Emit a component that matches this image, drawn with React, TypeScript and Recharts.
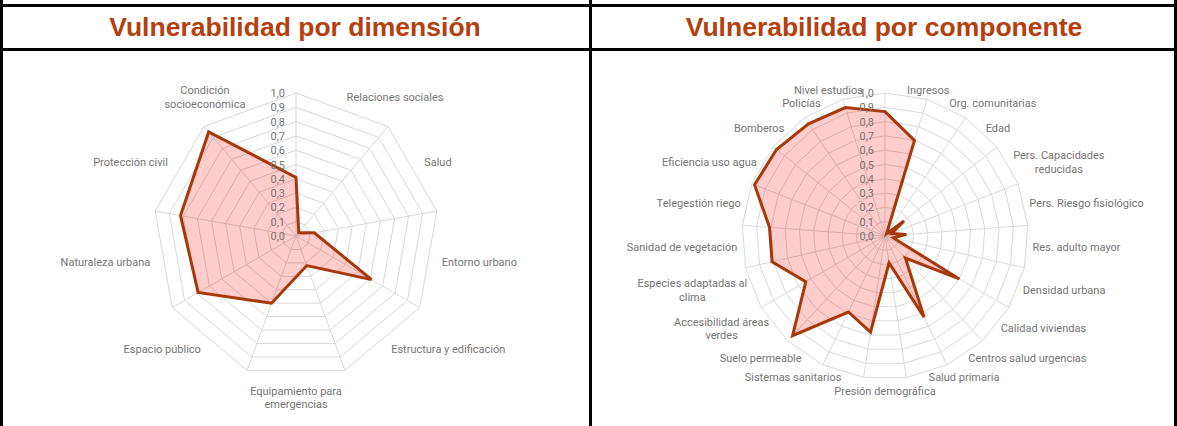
import React from 'react'
import { RadarChart, Radar, PolarGrid, PolarAngleAxis, PolarRadiusAxis } from 'recharts'

// Left chart: one value per dimension, clockwise from the top spoke
const DIMENSIONS = [
  'Condición\nsocioeconómica',
  'Relaciones sociales',
  'Salud',
  'Entorno urbano',
  'Estructura y edificación',
  'Equipamiento para\nemergencias',
  'Espacio público',
  'Naturaleza urbana',
  'Protección civil',
]
const DIMENSION_VALUES = [0.41, 0.03, 0.13, 0.61, 0.22, 0.5, 0.79, 0.82, 0.95]

// Right chart: one value per component, clockwise from the top spoke
const COMPONENTS = [
  'Nivel estudios',
  'Ingresos',
  'Org. comunitarias',
  'Edad',
  'Pers. Capacidades\nreducidas',
  'Pers. Riesgo fisiológico',
  'Res. adulto mayor',
  'Densidad urbana',
  'Calidad viviendas',
  'Centros salud urgencias',
  'Salud primaria',
  'Presión demográfica',
  'Sistemas sanitarios',
  'Suelo permeable',
  'Accesibilidad áreas\nverdes',
  'Especies adaptadas al\nclima',
  'Sanidad de vegetación',
  'Telegestión riego',
  'Eficiencia uso agua',
  'Bomberos',
  'Policías',
]
const COMPONENT_VALUES = [
  0.87, 0.7, 0.02, 0.17, 0.05, 0.15, 0.06, 0.6, 0.21, 0.63, 0.19,
  0.68, 0.59, 0.95, 0.64, 0.81, 0.81, 0.98, 0.97, 0.95, 0.94,
]

const RADIAL_TICKS = [0, 0.1, 0.2, 0.3, 0.4, 0.5, 0.6, 0.7, 0.8, 0.9, 1]

const TITLE_COLOR = '#b5400f'
const LINE_COLOR = '#a6380a'
const LABEL_COLOR = '#757575'
const GRID_COLOR = '#d9d9d9'
const FONT = 'Roboto, "Noto Sans", sans-serif'
const FONT_SIZE = 11
const LINE_H = 13.3

const CX = 293
const CY = 185
const R = 143
const CHART_W = 584
const CHART_H = 375

let ctx: CanvasRenderingContext2D | null = null
const measure = (s: string) => {
  if (!ctx) ctx = document.createElement('canvas').getContext('2d')
  if (!ctx) return s.length * 5.3
  ctx.font = `${FONT_SIZE}px Roboto`
  return ctx.measureText(s).width
}

const fmt = (v: number) => v.toFixed(1).replace('.', ',')

// category labels sit half a step counter-clockwise from their spoke
const makeAngleTick = (count: number) => (props: any) => {
  const { payload } = props
  const step = 360 / count
  const theta = ((payload.coordinate + step / 2) * Math.PI) / 180
  const r = R + 5
  const px = CX + r * Math.cos(theta)
  const py = CY - r * Math.sin(theta)
  const lines = String(payload.value).split('\n')
  const w = Math.max(...lines.map(measure))
  const h = lines.length * LINE_H
  const c = Math.cos(theta)
  const s = Math.sin(theta)
  let bx = px
  let by = py
  if (c > 0.1) bx = px + w / 2
  else if (c < -0.1) bx = px - w / 2
  else by = s > 0 ? py - h / 2 : py + h / 2
  return (
    <text textAnchor="middle" fontSize={FONT_SIZE} fill={LABEL_COLOR} fontFamily={FONT}>
      {lines.map((l, i) => (
        <tspan key={i} x={bx} y={by - h / 2 + LINE_H * (i + 0.5) + 4}>
          {l}
        </tspan>
      ))}
    </text>
  )
}

const RadiusTick = (props: any) => (
  <text
    x={props.x - 11}
    y={props.y + 4}
    textAnchor="end"
    fontSize={FONT_SIZE}
    fill={LABEL_COLOR}
    fontFamily={FONT}
  >
    {fmt(props.payload.value)}
  </text>
)

interface PanelProps {
  title: string
  categories: string[]
  values: number[]
  left: number
}

const Panel = ({ title, categories, values, left }: PanelProps) => {
  const data = categories.map((name, i) => ({ name, value: values[i] }))
  return (
    <>
      <div
        style={{
          position: 'absolute',
          left,
          top: 7,
          width: CHART_W,
          height: 41,
          display: 'flex',
          alignItems: 'center',
          justifyContent: 'center',
          fontFamily: '"Liberation Sans", Arial, sans-serif',
          fontWeight: 'bold',
          fontSize: 26.5,
          color: TITLE_COLOR,
        }}
      >
        {title}
      </div>
      <div style={{ position: 'absolute', left, top: 51 }}>
        <RadarChart
          width={CHART_W}
          height={CHART_H}
          data={data}
          cx={CX}
          cy={CY}
          outerRadius={R}
          startAngle={90}
          endAngle={-270}
          margin={{ top: 0, right: 0, bottom: 0, left: 0 }}
          style={{ overflow: 'visible' }}
        >
          <PolarGrid gridType="polygon" stroke={GRID_COLOR} strokeWidth={1} />
          <PolarAngleAxis
            dataKey="name"
            tick={makeAngleTick(categories.length)}
            tickLine={false}
            axisLine={false}
          />
          <PolarRadiusAxis
            angle={90}
            type="number"
            domain={[0, 1]}
            ticks={RADIAL_TICKS}
            tickCount={11}
            tick={RadiusTick}
            axisLine={false}
            tickLine={false}
          />
          <Radar
            dataKey="value"
            stroke={LINE_COLOR}
            strokeWidth={3}
            fill="#ff0000"
            fillOpacity={0.2}
            dot={false}
            isAnimationActive={false}
          />
        </RadarChart>
      </div>
    </>
  )
}

export default function App() {
  const line = (style: React.CSSProperties) => (
    <div style={{ position: 'absolute', background: '#000', ...style }} />
  )
  return (
    <div
      style={{
        position: 'absolute',
        left: 0,
        top: 0,
        width: 1177,
        height: 426,
        background: '#fff',
        overflow: 'hidden',
      }}
    >
      <Panel title="Vulnerabilidad por dimensión" categories={DIMENSIONS} values={DIMENSION_VALUES} left={3} />
      <Panel title="Vulnerabilidad por componente" categories={COMPONENTS} values={COMPONENT_VALUES} left={592} />
      {line({ left: 0, top: 4, width: 1177, height: 3 })}
      {line({ left: 0, top: 48, width: 1177, height: 3 })}
      {line({ left: 0, top: 0, width: 3, height: 426 })}
      {line({ left: 589, top: 0, width: 3, height: 426 })}
      {line({ left: 1174, top: 0, width: 3, height: 426 })}
    </div>
  )
}
